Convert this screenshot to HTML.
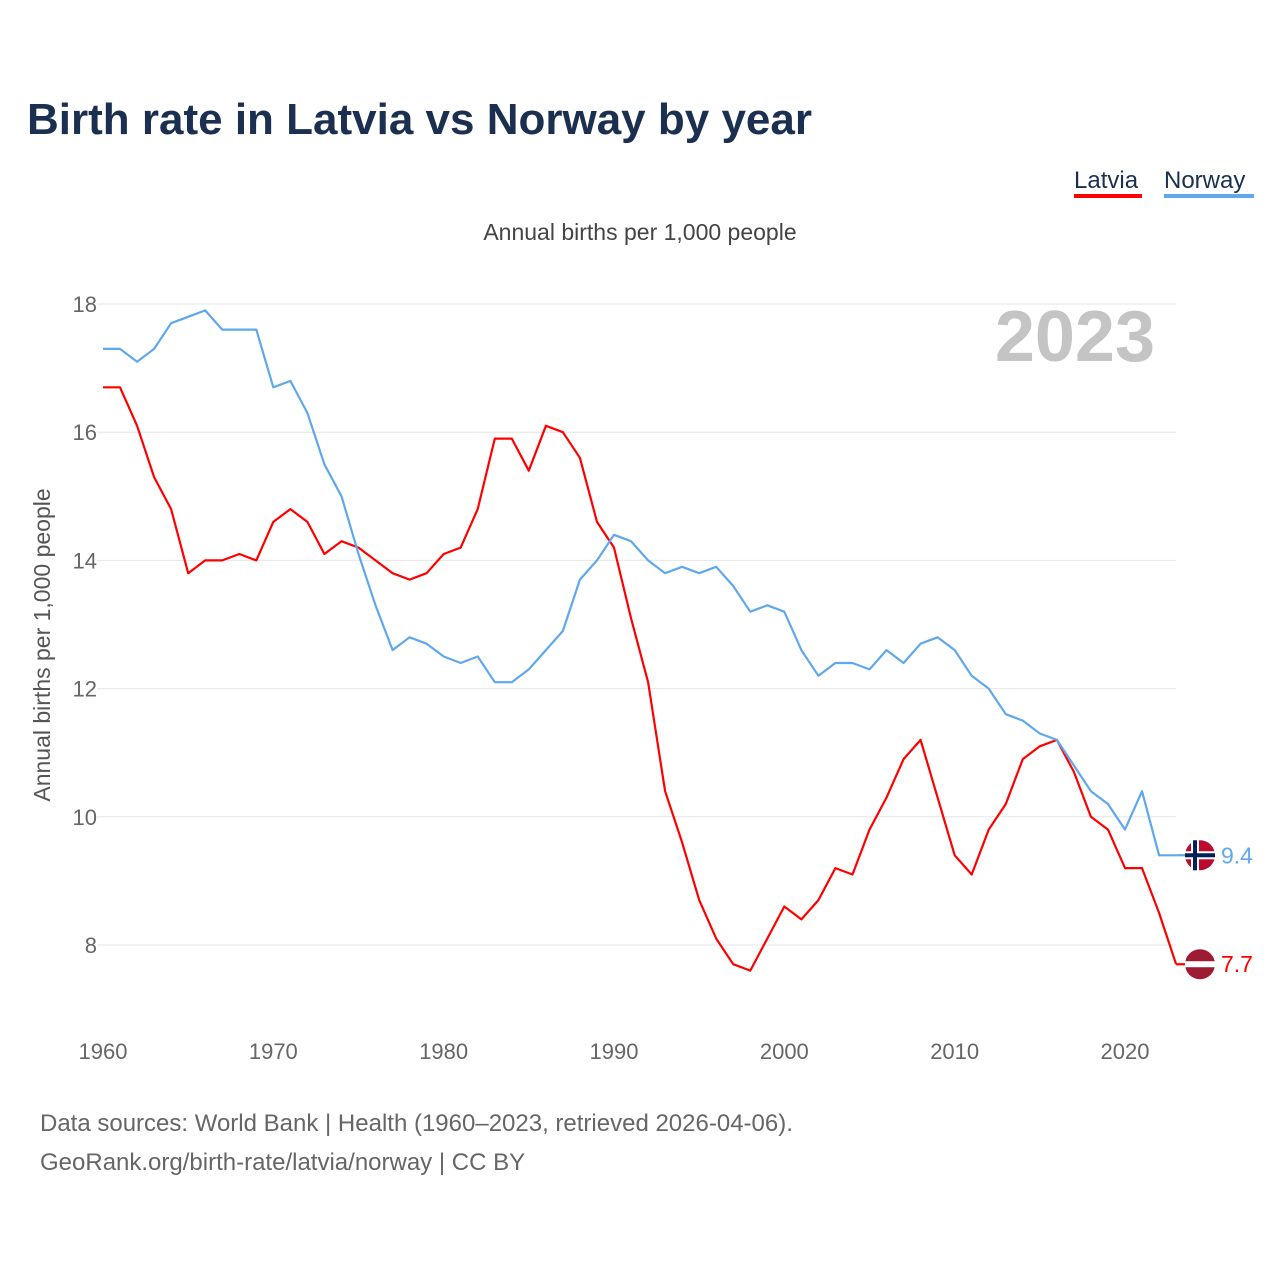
<!DOCTYPE html>
<html><head><meta charset="utf-8">
<style>
body{margin:0;background:#fff;width:1280px;height:1280px;overflow:hidden;font-family:"Liberation Sans",sans-serif;}
</style></head>
<body>
<svg id="chart" width="1280" height="1280" xmlns="http://www.w3.org/2000/svg" font-family="Liberation Sans, sans-serif">
<text x="27" y="134" font-size="44" font-weight="bold" fill="#1b3050">Birth rate in Latvia vs Norway by year</text>
<g>
<text x="1074" y="188" font-size="24" fill="#1b3050">Latvia</text>
<rect x="1074" y="194" width="68" height="4" fill="#ff0000"/>
<text x="1164" y="188" font-size="24" fill="#1b3050">Norway</text>
<rect x="1164" y="194" width="90" height="4" fill="#5fa8ee"/>
</g>
<text x="640" y="240" font-size="23" fill="#444" text-anchor="middle">Annual births per 1,000 people</text>
<text transform="translate(50,645) rotate(-90)" font-size="23" fill="#555" text-anchor="middle">Annual births per 1,000 people</text>
<text x="1155" y="361" font-size="72" font-weight="bold" fill="#c4c4c4" text-anchor="end">2023</text>
<g id="grid"></g>
<g id="series"></g>
<g id="ends"></g>
<text x="40" y="1131" font-size="24" fill="#666">Data sources: World Bank | Health (1960–2023, retrieved 2026-04-06).</text>
<text x="40" y="1170" font-size="24" fill="#666">GeoRank.org/birth-rate/latvia/norway | CC BY</text>
</svg>
<script>
const years=[];for(let y=1960;y<=2023;y++)years.push(y);
const latvia=[16.7,16.7,16.1,15.3,14.8,13.8,14.0,14.0,14.1,14.0,14.6,14.8,14.6,14.1,14.3,14.2,14.0,13.8,13.7,13.8,14.1,14.2,14.8,15.9,15.9,15.4,16.1,16.0,15.6,14.6,14.2,13.1,12.1,10.4,9.6,8.7,8.1,7.7,7.6,8.1,8.6,8.4,8.7,9.2,9.1,9.8,10.3,10.9,11.2,10.3,9.4,9.1,9.8,10.2,10.9,11.1,11.2,10.7,10.0,9.8,9.2,9.2,8.5,7.7];
const norway=[17.3,17.3,17.1,17.3,17.7,17.8,17.9,17.6,17.6,17.6,16.7,16.8,16.3,15.5,15.0,14.1,13.3,12.6,12.8,12.7,12.5,12.4,12.5,12.1,12.1,12.3,12.6,12.9,13.7,14.0,14.4,14.3,14.0,13.8,13.9,13.8,13.9,13.6,13.2,13.3,13.2,12.6,12.2,12.4,12.4,12.3,12.6,12.4,12.7,12.8,12.6,12.2,12.0,11.6,11.5,11.3,11.2,10.8,10.4,10.2,9.8,10.4,9.4,9.4];
const yTicks=[8,10,12,14,16,18];
const xTicks=[1960,1970,1980,1990,2000,2010,2020];
const NS="http://www.w3.org/2000/svg";
const xs=y=>103+(y-1960)*(1125-103)/60;
const ys=v=>945-(v-8)*(945-304)/10;
function mk(t,a,p){const e=document.createElementNS(NS,t);for(const k in a)e.setAttribute(k,a[k]);p.appendChild(e);return e;}
const grid=document.getElementById('grid');
yTicks.forEach(v=>{
 const l=mk('line',{x1:97,x2:1176,y1:ys(v),y2:ys(v),stroke:'#e6e6e6','stroke-width':1},grid);
 
 
 const t=mk('text',{x:97,y:ys(v)+8,'font-size':22,fill:'#666','text-anchor':'end'},grid);
 t.textContent=v;
 
 
});
xTicks.forEach(v=>{
 const t=mk('text',{x:xs(v),y:1059,'font-size':22,fill:'#666','text-anchor':'middle'},grid);
 t.textContent=v;
 
 
});
const series=document.getElementById('series');
function line(data,color,name){
 const d=data.map((v,i)=>(i?'L':'M')+xs(years[i]).toFixed(1)+','+ys(v).toFixed(1)).join('');
 const p=mk('path',{d:d,fill:'none',stroke:color,'stroke-width':2.2,'stroke-linejoin':'round'},series);
 
 
 const lv=data[data.length-1];
 const c=mk('line',{x1:xs(2023),x2:1200,y1:ys(lv),y2:ys(lv),stroke:color,'stroke-width':2.2},series);
 
 
}
line(latvia,'#ff0000','latvia-line');
line(norway,'#5fa8ee','norway-line');
const ends=document.getElementById('ends');
// Norway flag
(function(){const v=norway[norway.length-1],cy=ys(v);
 const g=mk('g',{},ends);
 mk('circle',{cx:1200,cy:cy,r:15,fill:'#ba0c2f'},g);
 mk('rect',{x:1191,y:cy-15,width:8,height:30,fill:'#fff'},g);
 mk('rect',{x:1185,y:cy-4,width:30,height:8,fill:'#fff'},g);
 mk('rect',{x:1193,y:cy-15,width:4,height:30,fill:'#00205b'},g);
 mk('rect',{x:1185,y:cy-2,width:30,height:4,fill:'#00205b'},g);
 const t=mk('text',{x:1221,y:cy+8,'font-size':23,fill:'#5fa8ee'},ends);t.textContent=v.toFixed(1);
 
})();
(function(){const v=latvia[latvia.length-1],cy=ys(v);
 const g=mk('g',{},ends);
 mk('circle',{cx:1200,cy:cy,r:15,fill:'#9e1b34'},g);
 mk('rect',{x:1185,y:cy-3,width:30,height:6,fill:'#fff'},g);
 const t=mk('text',{x:1221,y:cy+8,'font-size':23,fill:'#ff0000'},ends);t.textContent=v.toFixed(1);
 
})();
</script>
</body></html>
